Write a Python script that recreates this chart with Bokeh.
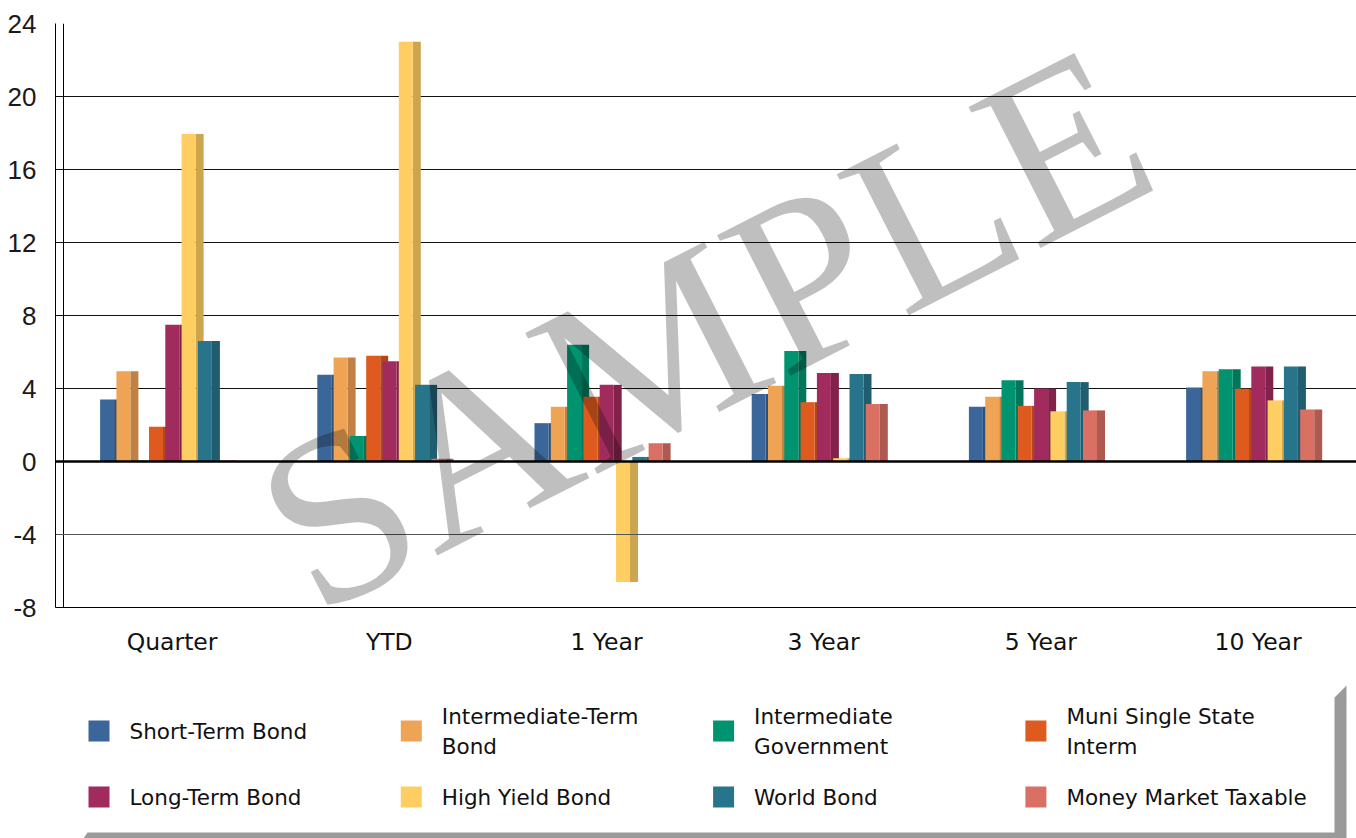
from bokeh.plotting import figure
from bokeh.models import Range1d, FixedTicker, Span, Label
from bokeh.layouts import column
from bokeh.embed import file_html
from bokeh.resources import INLINE
from bokeh.core.properties import value
import numpy as np

# ---------------- data ----------------
categories = ["Quarter", "YTD", "1 Year", "3 Year", "5 Year", "10 Year"]
series_names = ["Short-Term Bond", "Intermediate-Term Bond", "Intermediate Government",
                "Muni Single State Interm", "Long-Term Bond", "High Yield Bond",
                "World Bond", "Money Market Taxable"]
legend_labels = ["Short-Term Bond", "Intermediate-Term\nBond", "Intermediate\nGovernment",
                 "Muni Single State\nInterm", "Long-Term Bond", "High Yield Bond",
                 "World Bond", "Money Market Taxable"]

short_term_bond = [3.4, 4.75, 2.1, 3.7, 3.0, 4.05]
intermediate_term_bond = [4.95, 5.7, 3.0, 4.15, 3.55, 4.95]
intermediate_government = [0.05, 1.4, 6.4, 6.05, 4.45, 5.05]
muni_single_state = [1.9, 5.8, 3.55, 3.25, 3.05, 3.98]
long_term_bond = [7.5, 5.5, 4.2, 4.85, 4.0, 5.2]
high_yield_bond = [17.95, 23.0, -6.6, 0.18, 2.75, 3.35]
world_bond = [6.6, 4.2, 0.25, 4.8, 4.35, 5.2]
money_market_taxable = [0.05, 0.15, 1.0, 3.15, 2.8, 2.85]

y_ticks = [-8, -4, 0, 4, 8, 12, 16, 20, 24]
y_tick_labels = ["-8", "-4", "0", "4", "8", "12", "16", "20", "24"]

series_values = [short_term_bond, intermediate_term_bond, intermediate_government,
                 muni_single_state, long_term_bond, high_yield_bond, world_bond,
                 money_market_taxable]

front_colors = ["#3B6699", "#EFA355", "#009370", "#DE5A1F",
                "#A22B5E", "#FFCE62", "#28758B", "#DA7064"]
side_colors = ["#2E5077", "#BF8244", "#00765A", "#B24819",
               "#82224B", "#CCA54E", "#205E6F", "#AE5A50"]

# ---------------- layout constants ----------------
CAT_PX = 217.2
pitch = 16.3 / CAT_PX
front_w = 14.0 / CAT_PX
side_w = 8.0 / CAT_PX
first_left = -72.0 / CAT_PX

idx = np.arange(len(categories))

p = figure(width=1356, height=680,
           x_range=Range1d(-0.5 - 8 / CAT_PX, -0.5 + (1356 - 63) / CAT_PX),
           y_range=Range1d(-8, 24),
           output_backend="svg", toolbar_location=None,
           min_border_left=55, min_border_right=0, min_border_top=23, min_border_bottom=73)
p.outline_line_color = None
p.background_fill_color = "white"
p.border_fill_color = "white"

p.xgrid.grid_line_color = None
p.ygrid.ticker = FixedTicker(ticks=y_ticks)
p.ygrid.grid_line_color = "#111111"
p.ygrid.grid_line_width = 1

p.yaxis.ticker = FixedTicker(ticks=y_ticks)
p.yaxis.major_label_overrides = {t: s for t, s in zip(y_ticks, y_tick_labels)}
p.yaxis.major_label_text_font = "Liberation Sans"
p.yaxis.major_label_text_font_size = "26px"
p.yaxis.major_label_text_color = "#1a1a1a"
p.yaxis.major_tick_line_color = None
p.yaxis.minor_tick_line_color = None
p.yaxis.axis_line_color = "black"
p.yaxis.major_label_standoff = 13

p.xaxis.ticker = FixedTicker(ticks=list(idx))
p.xaxis.major_label_overrides = {int(i): c for i, c in zip(idx, categories)}
p.xaxis.major_label_text_font = "DejaVu Sans"
p.xaxis.major_label_text_font_size = "23.5px"
p.xaxis.major_label_text_color = "#111111"
p.xaxis.major_tick_line_color = None
p.xaxis.minor_tick_line_color = None
p.xaxis.axis_line_color = "black"
p.xaxis.major_label_standoff = 14

# inner wall line
p.add_layout(Span(location=-0.5, dimension="height", line_color="black", line_width=1))
p.add_layout(Span(location=-4, dimension="width", line_color="#555555", line_width=1))

# bars with 3D side faces
for i, vals in enumerate(series_values):
    left = idx + first_left + i * pitch
    p.vbar(x=left + front_w + side_w / 2, width=side_w, top=vals, bottom=0,
           fill_color=side_colors[i], line_color=None)
    p.vbar(x=left + front_w / 2, width=front_w, top=vals, bottom=0,
           fill_color=front_colors[i], line_color=None)

p.add_layout(Span(location=0, dimension="width", line_color="black", line_width=2.5))

# watermark
p.add_layout(Label(x=-0.5 + (703 - 63) / CAT_PX, y=(460.7 - 327) / 18.25, text="SAMPLE",
                   angle=27, angle_units="deg", text_font="Liberation Serif",
                   text_font_size="242px", text_color="black", text_alpha=0.25,
                   text_align="center", text_baseline="middle"))

# ---------------- legend ----------------
# the legend figure's frame is aligned with the chart frame (starts at x = 55 px)
lg = figure(width=1356, height=158, x_range=Range1d(55, 1356), y_range=Range1d(838, 680),
            output_backend="svg", toolbar_location=None, min_border=0,
            min_border_left=55)
lg.axis.visible = False
lg.grid.visible = False
lg.outline_line_color = None

lg.patch(x=[1334, 1346, 1346, 75, 87, 1334], y=[697, 685, 850, 850, 832, 832],
         fill_color="#9A9A9A", line_color=None)

cols = np.arange(len(series_names)) % 4
rows = np.arange(len(series_names)) // 4
text_x = 129 + 312.3 * cols
row_y = 730.5 + 66 * rows
lg.rect(x=text_x - 30.5, y=row_y, width=21, height=21, fill_color=front_colors, line_color=None)
lg.text(x=text_x, y=row_y, text=legend_labels, text_font=value("DejaVu Sans"),
        text_font_size="21.5px", text_color="#111111", text_baseline="middle",
        text_align="left", text_line_height=1.2)

layout = column(p, lg, spacing=0)
open("out.html", "w").write(file_html(layout, INLINE))
